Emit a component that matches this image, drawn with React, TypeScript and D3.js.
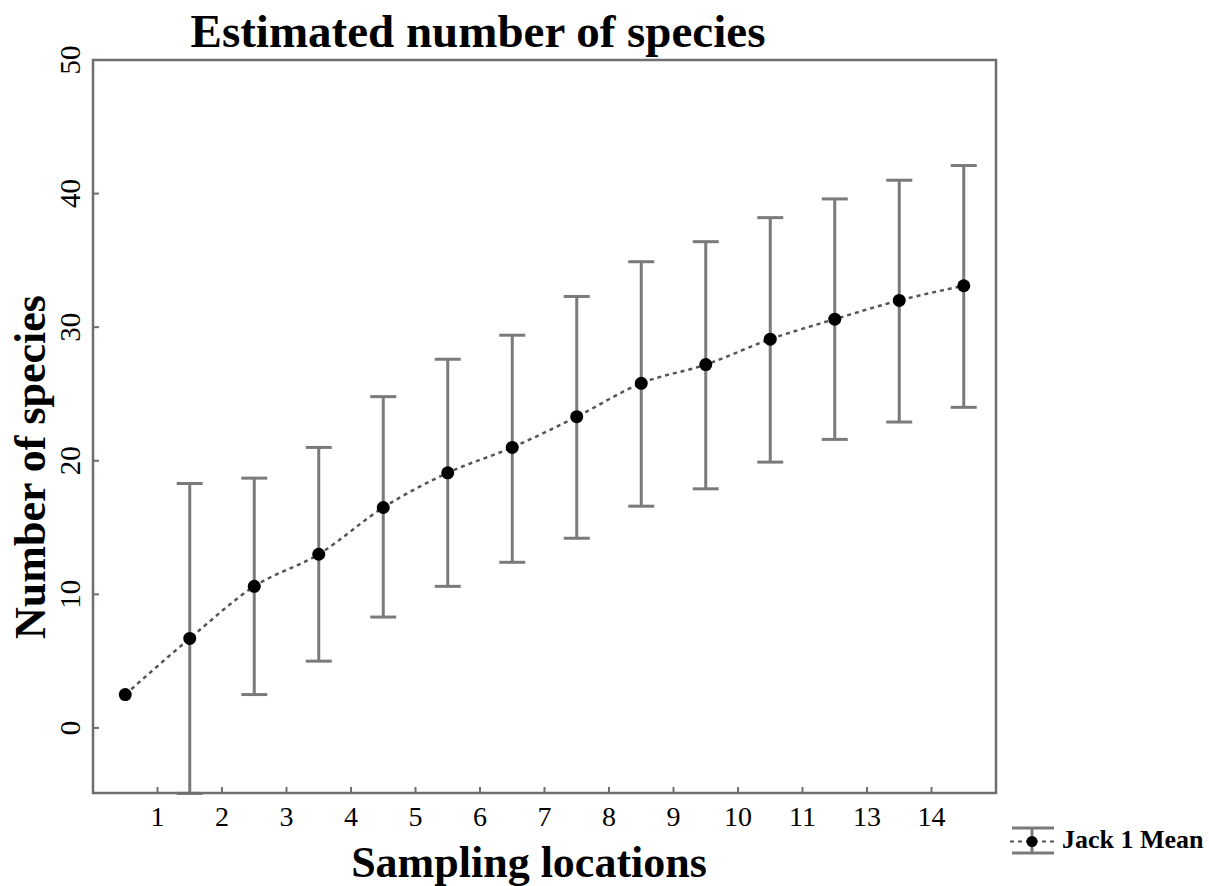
import React from "react";
import * as d3 from "d3";

const categories = ["L1","L2","L3","L4","L5","L6","L7","L8","L9","L10","L11","L12","L13","L14"];
const meanValues = [2.5, 6.7, 10.6, 13.0, 16.5, 19.1, 21.0, 23.3, 25.8, 27.2, 29.1, 30.6, 32.0, 33.1];
const upperValues = [null, 18.3, 18.7, 21.0, 24.8, 27.6, 29.4, 32.3, 34.9, 36.4, 38.2, 39.6, 41.0, 42.1];
const lowerValues = [null, -4.9, 2.5, 5.0, 8.3, 10.6, 12.4, 14.2, 16.6, 17.9, 19.9, 21.6, 22.9, 24.0];
const xTickLabels = ["1","2","3","4","5","6","7","8","9","10","11","13","14"];
const yTicks = [0, 10, 20, 30, 40, 50];

const W = 1209, H = 886;
const L = 93, R = 996, T = 60, B = 793;
const SERIF = "'Liberation Serif', 'Times New Roman', serif";

export default function App() {
  const x = d3.scaleBand<string>().domain(categories).range([L, R]).padding(0);
  const y = d3.scaleLinear().domain([-4.87, 50]).range([B, T]);
  const cx = (i: number) => (x(categories[i]) as number) + x.bandwidth() / 2;
  const line = d3.line<number>()
    .x((_, i) => cx(i))
    .y((d) => y(d))
    .curve(d3.curveMonotoneX);
  const frameColor = "#6e6e6e";
  const barColor = "#7a7a7a";
  const capW = 26;
  return (
    <svg width={W} height={H} style={{ position: "absolute", left: 0, top: 0, background: "#fff" }}>
      <rect x={0} y={0} width={W} height={H} fill="#fff" />
      {/* title */}
      <text x={478} y={47} textAnchor="middle" fontFamily={SERIF} fontWeight="bold" fontSize={47}>Estimated number of species</text>
      {/* error bars */}
      {meanValues.map((m, i) => {
        const up = upperValues[i], lo = lowerValues[i];
        if (up == null || lo == null) return null;
        const xc = cx(i);
        return (
          <g key={"eb" + i} stroke={barColor} strokeWidth={3}>
            <line x1={xc} x2={xc} y1={y(up)} y2={y(lo)} />
            <line x1={xc - capW / 2} x2={xc + capW / 2} y1={y(up)} y2={y(up)} />
            <line x1={xc - capW / 2} x2={xc + capW / 2} y1={y(lo)} y2={y(lo)} />
          </g>
        );
      })}
      {/* mean line */}
      <path d={line(meanValues) || ""} fill="none" stroke="#555" strokeWidth={2.5} strokeDasharray="4,4" />
      {meanValues.map((m, i) => (
        <circle key={"pt" + i} cx={cx(i)} cy={y(m)} r={6.5} fill="#000" />
      ))}
      {/* frame */}
      <rect x={L} y={T} width={R - L} height={B - T} fill="none" stroke={frameColor} strokeWidth={2.5} />
      {/* y ticks */}
      {yTicks.map((t) => (
        <g key={"yt" + t}>
          <line x1={L} x2={L + 6} y1={y(t)} y2={y(t)} stroke={frameColor} strokeWidth={2} />
          <text transform={`translate(80,${y(t)}) rotate(-90)`} textAnchor="middle" fontFamily={SERIF} fontSize={29}>{t}</text>
        </g>
      ))}
      {/* x ticks at band boundaries */}
      {xTickLabels.map((lab, k) => {
        const xt = (x(categories[k + 1]) as number);
        return (
          <g key={"xt" + k}>
            <line x1={xt} x2={xt} y1={B} y2={B - 6} stroke={frameColor} strokeWidth={2} />
            <text x={xt} y={826} textAnchor="middle" fontFamily={SERIF} fontSize={28}>{lab}</text>
          </g>
        );
      })}
      {/* axis titles */}
      <text x={529} y={877} textAnchor="middle" fontFamily={SERIF} fontWeight="bold" fontSize={44}>Sampling locations</text>
      <text transform="translate(45,467) rotate(-90)" textAnchor="middle" fontFamily={SERIF} fontWeight="bold" fontSize={44}>Number of species</text>
      {/* legend */}
      <g>
        <line x1={1012} x2={1054} y1={828} y2={828} stroke={barColor} strokeWidth={3} />
        <line x1={1012} x2={1054} y1={853} y2={853} stroke={barColor} strokeWidth={3} />
        <line x1={1032} x2={1032} y1={828} y2={853} stroke={barColor} strokeWidth={3} />
        <line x1={1010} x2={1056} y1={841.5} y2={841.5} stroke="#555" strokeWidth={2} strokeDasharray="4,4" />
        <circle cx={1032} cy={841.5} r={5.5} fill="#000" />
        <text x={1062} y={848} fontFamily={SERIF} fontWeight="bold" fontSize={26}>Jack 1 Mean</text>
      </g>
    </svg>
  );
}
